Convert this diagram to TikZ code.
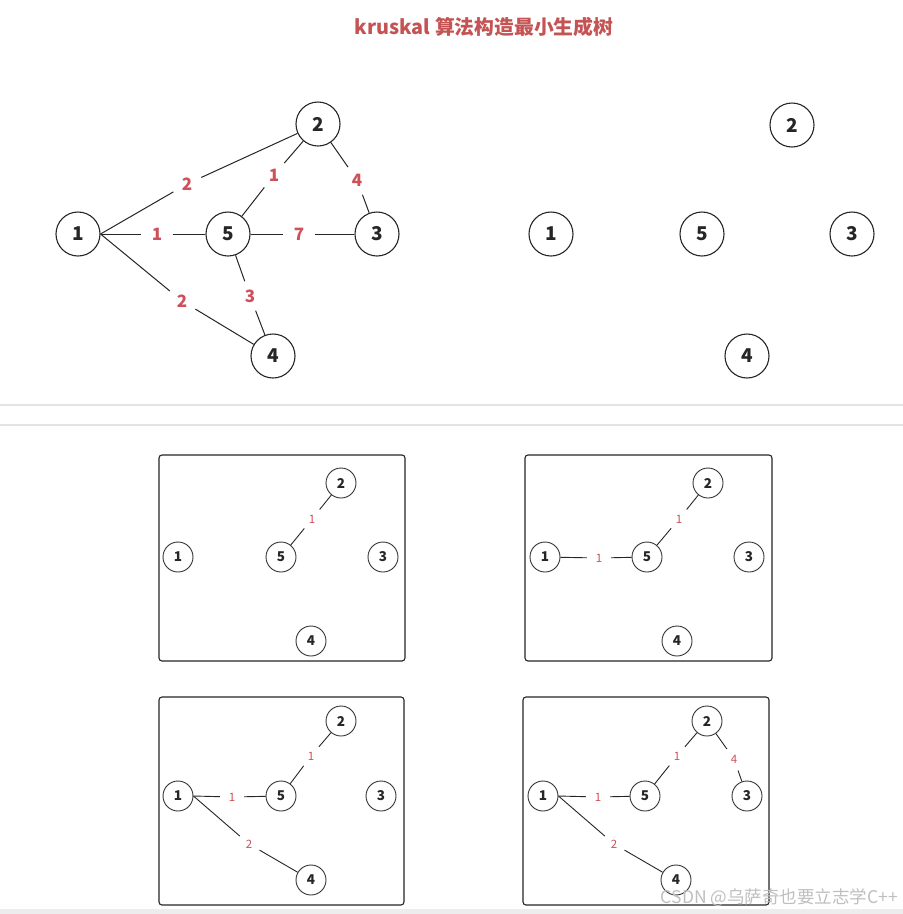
\documentclass[tikz,border=0pt]{standalone}
\usepackage{fontspec}
\setmainfont{Noto Sans}
\newfontfamily\cjk{Noto Sans CJK SC}
\definecolor{titlered}{RGB}{196,84,84}
\definecolor{lblred}{RGB}{206,80,90}
\definecolor{sepgray}{RGB}{228,228,228}
\begin{document}
\begin{tikzpicture}[x=1pt,y=-1pt,
  big/.style={circle,draw=black!85,line width=1.1pt,minimum size=44pt,inner sep=0pt,font=\cjk\bfseries\fontsize{19}{19}\selectfont,text=black!85},
  small/.style={circle,draw=black!80,line width=0.9pt,minimum size=30pt,inner sep=0pt,font=\cjk\bfseries\fontsize{13.5}{13.5}\selectfont,text=black!85},
  ln/.style={draw=black!85,line width=1pt},
  sln/.style={draw=black!85,line width=0.9pt},
  bl/.style={circle,minimum size=31pt,inner sep=0pt,text=lblred,font=\cjk\bfseries\fontsize{17}{17}\selectfont},
  sl/.style={circle,minimum size=24pt,inner sep=0pt,text=lblred,font=\cjk\fontsize{11.5}{11.5}\selectfont},
  panel/.style={draw=black!85,line width=1.1pt,rounded corners=3pt}]
\useasboundingbox (0,0) rectangle (903,914);
\fill[white] (0,0) rectangle (903,914);

% title
\node[font=\cjk\bfseries\fontsize{19.8}{19.8}\selectfont,text=titlered] (title) at (484,27) {kruskal 算法构造最小生成树};

% separators
\draw[sepgray,line width=1.2pt] (0,405) -- (903,405);
\draw[sepgray,line width=1.2pt] (0,425) -- (903,425);
\fill[black!7] (0,909) rectangle (903,914);

% ===== top-left full graph =====
\node[big] (a1) at (78,234) {1};
\node[big] (a2) at (318,124) {2};
\node[big] (a5) at (228,234) {5};
\node[big] (a3) at (377,234) {3};
\node[big] (a4) at (273,356) {4};
\node[bl] (l12) at (187,184) {2};
\node[bl] (l25) at (274,175) {1};
\node[bl] (l23) at (357,180) {4};
\node[bl] (l15) at (157,234) {1};
\node[bl] (l53) at (299,234) {7};
\node[bl] (l54) at (250,296) {3};
\node[bl] (l14) at (182,301) {2};
\draw[ln] (a1.east) -- (l12) (l12) -- (a2);
\draw[ln] (a2) -- (l25) (l25) -- (a5);
\draw[ln] (a2) -- (l23) (l23) -- (a3);
\draw[ln] (a1.east) -- (l15) (l15) -- (a5);
\draw[ln] (a5) -- (l53) (l53) -- (a3);
\draw[ln] (a5) -- (l54) (l54) -- (a4);
\draw[ln] (a1.east) -- (l14) (l14) -- (a4);

% ===== top-right isolated nodes =====
\node[big] (b1) at (551,234) {1};
\node[big] (b2) at (792,125) {2};
\node[big] (b5) at (702,234) {5};
\node[big] (b3) at (852,234) {3};
\node[big] (b4) at (747,356) {4};

% ===== panel A =====
\draw[panel] (159,455) rectangle (405,661);
\node[small] (c1) at (178,557) {1};
\node[small] (c2) at (341,483) {2};
\node[small] (c5) at (281,557) {5};
\node[small] (c3) at (383,557) {3};
\node[small] (c4) at (311,641) {4};
\node[sl] (c25) at (312,519) {1};
\draw[sln] (c5) -- (c25) (c25) -- (c2);

% ===== panel B =====
\draw[panel] (525,455) rectangle (772,661);
\node[small] (d1) at (545,557) {1};
\node[small] (d2) at (708,483) {2};
\node[small] (d5) at (647,557) {5};
\node[small] (d3) at (749,557) {3};
\node[small] (d4) at (677,641) {4};
\node[sl] (d25) at (679,519) {1};
\node[sl] (d15) at (599,558) {1};
\draw[sln] (d5) -- (d25) (d25) -- (d2);
\draw[sln] (d1) -- (d15) (d15) -- (d5);

% ===== panel C =====
\draw[panel] (159,697) rectangle (404,905);
\node[small] (e1) at (178,796) {1};
\node[small] (e2) at (341,721) {2};
\node[small] (e5) at (281,796) {5};
\node[small] (e3) at (381,796) {3};
\node[small] (e4) at (311,880) {4};
\node[sl] (e25) at (311,756) {1};
\node[sl] (e15) at (232,797) {1};
\node[sl] (e14) at (249,844) {2};
\draw[sln] (e5) -- (e25) (e25) -- (e2);
\draw[sln] (e1.east) -- (e15) (e15) -- (e5);
\draw[sln] (e1.east) -- (e14) (e14) -- (e4);

% ===== panel D =====
\draw[panel] (523,697) rectangle (769,905);
\node[small] (f1) at (543,796) {1};
\node[small] (f2) at (707,721) {2};
\node[small] (f5) at (645,796) {5};
\node[small] (f3) at (747,796) {3};
\node[small] (f4) at (676,880) {4};
\node[sl] (f25) at (677,756) {1};
\node[sl] (f15) at (598,797) {1};
\node[sl] (f14) at (614,844) {2};
\node[sl] (f23) at (734,759) {4};
\draw[sln] (f5) -- (f25) (f25) -- (f2);
\draw[sln] (f1.east) -- (f15) (f15) -- (f5);
\draw[sln] (f1.east) -- (f14) (f14) -- (f4);
\draw[sln] (f2) -- (f23) (f23) -- (f3);

% watermark
\node[anchor=east,inner sep=0pt,text=black!25,font=\cjk\fontsize{17.5}{17.5}\selectfont] (wm) at (898,898) {CSDN @乌萨奇也要立志学C++};
\end{tikzpicture}
\end{document}
